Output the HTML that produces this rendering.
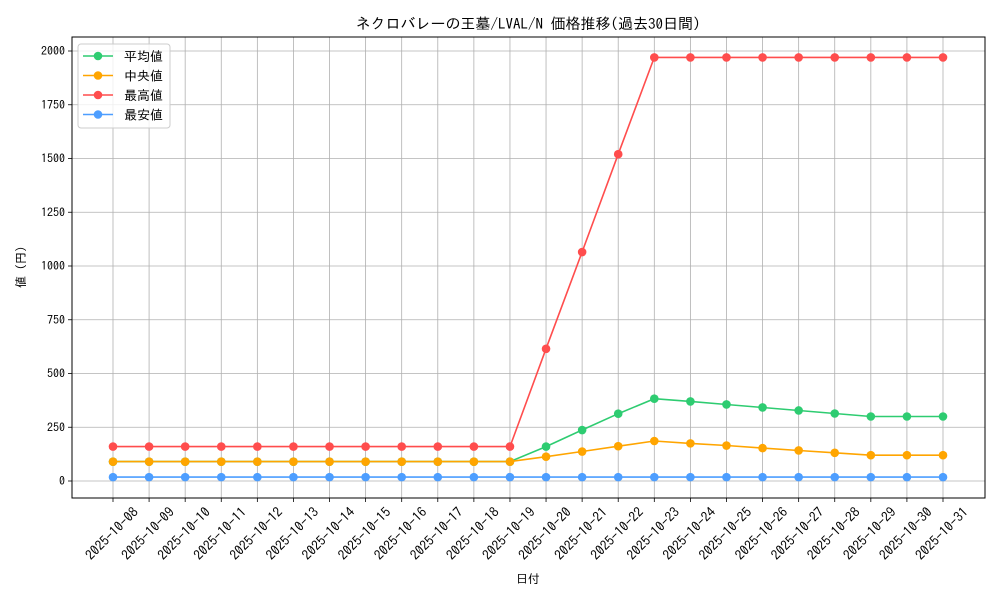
<!DOCTYPE html>
<html><head><meta charset="utf-8"><style>
body{margin:0;background:#fff}
svg text{font-family:"IPAGothic","Liberation Sans","Noto Sans CJK JP",sans-serif;fill:#000}
</style></head><body>
<svg id="s" width="1000" height="600" xmlns="http://www.w3.org/2000/svg"></svg>
<script>
const s=document.getElementById('s');
let h='';
const L=72,R=985,T=37,B=498;
const X=i=>113+i*(830/23);
const Y=v=>481-v*0.215;
h+=`<rect x="0" y="0" width="1000" height="600" fill="#fff"/>`;
const dates=[];for(let i=0;i<24;i++){dates.push('2025-10-'+String(8+i).padStart(2,'0'));}
for(let i=0;i<24;i++){const x=X(i);h+=`<line x1="${x}" y1="${T}" x2="${x}" y2="${B}" stroke="#b0b0b0" stroke-width="0.8"/>`;
h+=`<line x1="${x}" y1="${B}" x2="${x}" y2="${B+4}" stroke="#000" stroke-width="0.8"/>`;
h+=`<text transform="translate(${x+26},${B+15}) rotate(-45)" text-anchor="end" font-size="13.5">${dates[i]}</text>`;}
for(let v=0;v<=2000;v+=250){const y=Y(v);h+=`<line x1="${L}" y1="${y}" x2="${R}" y2="${y}" stroke="#b0b0b0" stroke-width="0.8"/>`;
h+=`<line x1="${L-4}" y1="${y}" x2="${L}" y2="${y}" stroke="#000" stroke-width="0.8"/>`;
h+=`<text x="${L-7}" y="${y+4}" text-anchor="end" font-size="12">${v}</text>`;}
const mx=[160,160,160,160,160,160,160,160,160,160,160,160,615,1065,1520,1970,1970,1970,1970,1970,1970,1970,1970,1970];
const av=[90,90,90,90,90,90,90,90,90,90,90,90,160,237,313,383,370,356,342,328,314,300,300,300];
const md=[90,90,90,90,90,90,90,90,90,90,90,90,113,137,162,186,175,165,153,142,131,120,120,120];
const mn=Array(24).fill(18);
function ser(d,c){let p=d.map((v,i)=>X(i).toFixed(1)+','+Y(v).toFixed(1)).join(' ');
h+=`<polyline points="${p}" fill="none" stroke="${c}" stroke-width="1.6"/>`;
d.forEach((v,i)=>h+=`<circle cx="${X(i)}" cy="${Y(v)}" r="4.3" fill="${c}"/>`);}
ser(av,'#2ecc71');ser(md,'#ffa500');ser(mx,'#ff4d4d');ser(mn,'#4d9eff');
h+=`<rect x="${L}" y="${T}" width="${R-L}" height="${B-T}" fill="none" stroke="#000" stroke-width="1"/>`;
h+=`<rect x="78" y="44" width="92" height="84" rx="3" fill="#fff" fill-opacity="0.8" stroke="#ccc"/>`;
[['平均値','#2ecc71'],['中央値','#ffa500'],['最高値','#ff4d4d'],['最安値','#4d9eff']].forEach((e,i)=>{const y=56+i*19.5;
h+=`<line x1="83" y1="${y}" x2="113" y2="${y}" stroke="${e[1]}" stroke-width="1.6"/><circle cx="98" cy="${y}" r="4.3" fill="${e[1]}"/>`;
h+=`<text x="124" y="${y+5}" font-size="13">${e[0]}</text>`;});
h+=`<text x="528" y="29" text-anchor="middle" font-size="15">ネクロバレーの王墓/LVAL/N 価格推移(過去30日間)</text>`;
h+=`<text x="528" y="583" text-anchor="middle" font-size="12">日付</text>`;
h+=`<text transform="translate(25,267) rotate(-90)" text-anchor="middle" font-size="12">値 (円)</text>`;
s.innerHTML=h;
</script>
</body></html>
